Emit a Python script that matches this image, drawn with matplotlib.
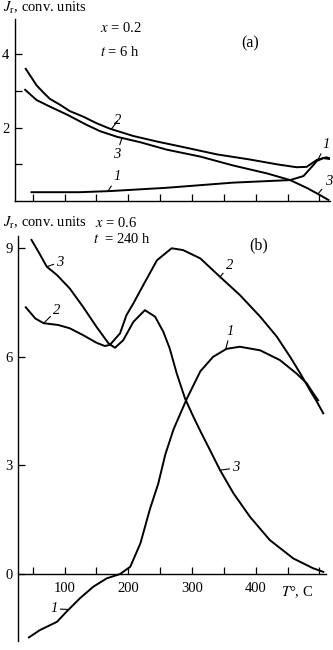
import matplotlib
matplotlib.use('Agg')
import matplotlib.pyplot as plt
from matplotlib.ticker import FixedLocator, NullFormatter

plt.rcParams['font.family'] = ['Liberation Serif', 'DejaVu Serif']
plt.rcParams['mathtext.fontset'] = 'stix'
plt.rcParams['font.size'] = 10.5

# (a) x = 0.2, t = 6 h
T_a1 = [48, 124, 171, 260, 364, 454, 475, 488, 496, 506, 517]
J_a1 = [0.24, 0.24, 0.27, 0.36, 0.50, 0.57, 0.68, 0.93, 1.09, 1.17, 1.14]
T_a2 = [39, 56, 67, 77, 93, 108, 129, 150, 171, 208, 245, 286, 339, 391, 433, 464, 480, 496, 511, 517]
J_a2 = [3.60, 3.15, 2.95, 2.78, 2.62, 2.45, 2.30, 2.12, 1.97, 1.77, 1.62, 1.47, 1.27, 1.13, 1.00, 0.92, 0.93, 1.12, 1.19, 1.16]
T_a3 = [38, 56, 77, 103, 135, 156, 182, 219, 260, 313, 364, 418, 454, 481, 501, 514]
J_a3 = [3.03, 2.75, 2.57, 2.36, 2.07, 1.90, 1.75, 1.60, 1.40, 1.21, 0.97, 0.75, 0.57, 0.35, 0.16, 0.03]

# (b) x = 0.6, t = 240 h
T_b1 = [44, 61, 88, 103, 124, 145, 166, 187, 203, 219, 234, 247, 258, 271, 292, 313, 333, 354, 375, 407, 438, 464, 480, 490, 498]
J_b1 = [-1.75, -1.55, -1.32, -1.04, -0.67, -0.35, -0.12, 0.0, 0.2, 0.85, 1.8, 2.5, 3.3, 4.0, 4.85, 5.6, 6.0, 6.22, 6.28, 6.18, 5.91, 5.54, 5.27, 5.0, 4.8]
T_b2 = [39, 54, 67, 90, 108, 129, 150, 163, 171, 187, 197, 208, 224, 245, 268, 286, 313, 344, 375, 407, 433, 454, 470, 485, 496, 506]
J_b2 = [7.37, 7.06, 6.93, 6.88, 6.79, 6.60, 6.39, 6.30, 6.33, 6.65, 7.15, 7.48, 8.0, 8.67, 9.0, 8.95, 8.72, 8.21, 7.71, 7.11, 6.56, 6.0, 5.54, 5.08, 4.76, 4.44]
T_b3 = [48, 59, 72, 88, 108, 129, 150, 169, 179, 192, 208, 226, 242, 255, 265, 276, 289, 302, 313, 328, 344, 365, 391, 422, 459, 490, 506]
J_b3 = [9.23, 8.90, 8.49, 8.26, 7.89, 7.38, 6.83, 6.37, 6.25, 6.46, 6.97, 7.29, 7.11, 6.69, 6.23, 5.54, 4.85, 4.35, 3.95, 3.43, 2.87, 2.23, 1.58, 0.94, 0.43, 0.16, 0.06]

x_major = [100, 200, 300, 400]
x_minor = [50, 150, 250, 350, 450, 500]

W, H = 333, 650
fig = plt.figure(figsize=(W / 100, H / 100), dpi=100)

def px(x, y):
    return x / W, 1 - y / H

lw = 1.4

def label(ax, s, xy, xytext):
    ax.annotate(s, xy=xy, xytext=xytext, fontstyle='italic', fontsize=10.5,
                ha='center', va='center', annotation_clip=False,
                arrowprops=dict(arrowstyle='-', lw=0.8, color='black',
                                shrinkA=0, shrinkB=0))

def style(ax):
    for s in ['top', 'right']:
        ax.spines[s].set_visible(False)
    for s in ['left', 'bottom']:
        ax.spines[s].set_linewidth(1.0)
    ax.tick_params(which='both', direction='in', length=5, width=0.9, pad=4)

# ---- panel (a)
ax_a = fig.add_axes([15 / W, 1 - 201 / H, 315 / W, 181.7 / H])
style(ax_a)
ax_a.plot(T_a1, J_a1, color='black', lw=lw)
ax_a.plot(T_a2, J_a2, color='black', lw=lw)
ax_a.plot(T_a3, J_a3, color='black', lw=lw)
ax_a.set_xlim(22.1, 516.6)
ax_a.set_ylim(0, 4.95)
ax_a.set_yticks([2, 4])
ax_a.yaxis.set_minor_locator(FixedLocator([1, 3]))
ax_a.xaxis.set_major_locator(FixedLocator(x_major + x_minor))
ax_a.xaxis.set_major_formatter(NullFormatter())

label(ax_a, '2', (173, 1.95), (183, 2.18))
label(ax_a, '3', (190, 1.72), (182, 1.28))
label(ax_a, '1', (168, 0.27), (183, 0.66))
label(ax_a, '1', (498, 1.14), (510, 1.54))
label(ax_a, '3', (498, 0.20), (514, 0.53))

fig.text(*px(3, 8), r'$J_{\rm r}$, conv. units', ha='left', va='center')
fig.text(*px(100, 28), r'$x$ = 0.2', ha='left', va='center')
fig.text(*px(100, 52), r'$t$ = 6 h', ha='left', va='center')
fig.text(*px(241, 43), '(a)', ha='left', va='center', fontsize=11.5)

# ---- panel (b)
ax_b = fig.add_axes([18 / W, 1 - 641 / H, 308 / W, 405.4 / H])
style(ax_b)
ax_b.spines['bottom'].set_position(('data', 0))
ax_b.plot(T_b1, J_b1, color='black', lw=lw)
ax_b.plot(T_b2, J_b2, color='black', lw=lw)
ax_b.plot(T_b3, J_b3, color='black', lw=lw)
ax_b.set_xlim(26.8, 510.3)
ax_b.set_ylim(-1.85, 9.35)
ax_b.set_yticks([0, 3, 6, 9])
ax_b.set_xticks(x_major)
ax_b.xaxis.set_minor_locator(FixedLocator(x_minor))
ax_b.tick_params(axis='x', pad=6)

label(ax_b, '3', (72, 8.49), (93, 8.62))
label(ax_b, '2', (67, 6.93), (88, 7.29))
label(ax_b, '2', (344, 8.21), (359, 8.52))
label(ax_b, '1', (353, 6.22), (360, 6.70))
label(ax_b, '3', (344, 2.87), (369, 2.93))
label(ax_b, '1', (106, -0.98), (83, -0.96))

fig.text(*px(3, 223), r'$J_{\rm r}$, conv. units', ha='left', va='center')
fig.text(*px(95, 223), r'$x$ = 0.6', ha='left', va='center')
fig.text(*px(93, 239), r'$t$  = 240 h', ha='left', va='center')
fig.text(*px(249, 245), '(b)', ha='left', va='center', fontsize=11.5)
fig.text(*px(281, 592), r'$T$°, C', ha='left', va='center')

fig.savefig('out.png', dpi=100)
